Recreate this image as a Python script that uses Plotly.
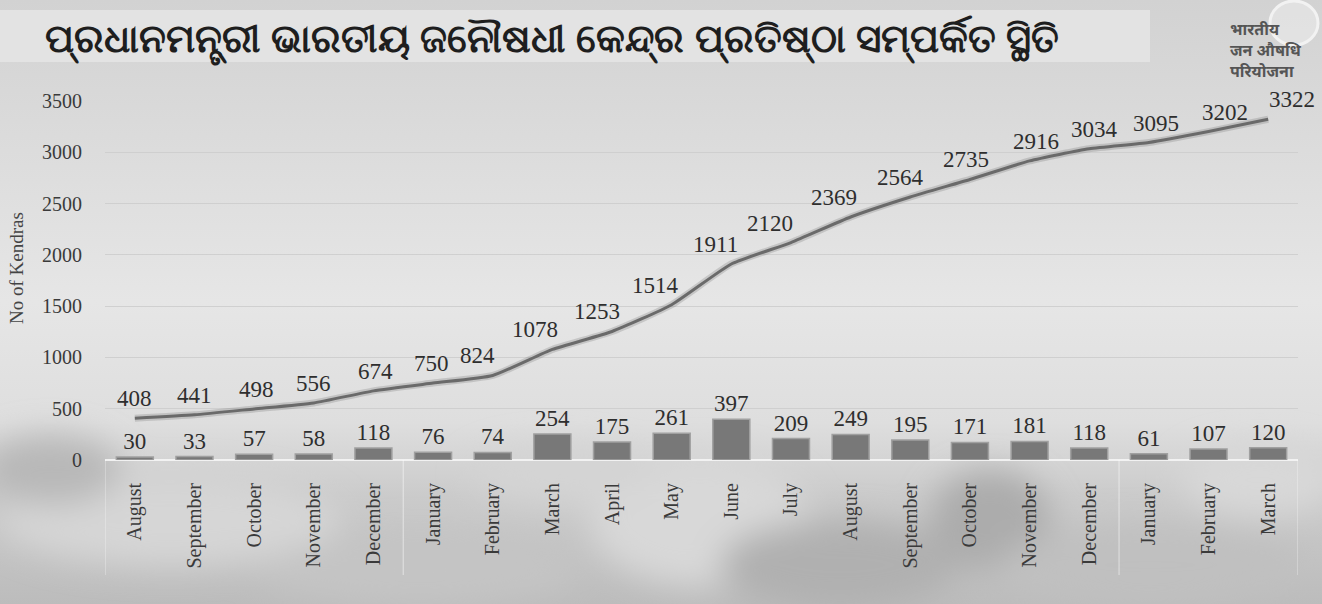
import base64
import plotly.graph_objects as go

# ---------------- data ----------------
months = ["August", "September", "October", "November", "December",
          "January", "February", "March", "April", "May", "June", "July",
          "August", "September", "October", "November", "December",
          "January", "February", "March"]
monthly_opened = [30, 33, 57, 58, 118, 76, 74, 254, 175, 261, 397, 209,
                  249, 195, 171, 181, 118, 61, 107, 120]
cumulative_kendras = [408, 441, 498, 556, 674, 750, 824, 1078, 1253, 1514,
                      1911, 2120, 2369, 2564, 2735, 2916, 3034, 3095, 3202, 3322]
year_breaks = [4.5, 16.5]          # boundaries between year groups (category units)
y_ticks = [0, 500, 1000, 1500, 2000, 2500, 3000, 3500]

title_text = "ପ୍ରଧାନମନ୍ତ୍ରୀ ଭାରତୀୟ ଜନୌଷଧୀ କେନ୍ଦ୍ର ପ୍ରତିଷ୍ଠା ସମ୍ପର୍କିତ ସ୍ଥିତି"
logo_text = "भारतीय<br>जन औषधि<br>परियोजना"

# label nudges for the cumulative line labels (pixels)
line_label_xshift = [0, 0, 2, 0, 2, -2, -15, -17, -15, -16, -16, -21, -17,
                     -10, -4, 6, 5, 7, 16, 24]

# ---------------- layout geometry ----------------
W, H = 1322, 604
ML, MR, MT, MB = 105, 24, 101, 144
PW, PH = W - ML - MR, H - MT - MB

x_idx = list(range(len(months)))
serif = "Liberation Serif, Times New Roman, serif"
txt_col = "#2e2e2e"

# background (soft grey gradient with blurred pill shapes)
svg = f"""<svg xmlns='http://www.w3.org/2000/svg' width='{W}' height='{H}' viewBox='0 0 {W} {H}'>
<defs>
<linearGradient id='g' x1='0' y1='0' x2='0' y2='1'>
<stop offset='0' stop-color='#d2d2d2'/>
<stop offset='0.2' stop-color='#dadada'/>
<stop offset='0.5' stop-color='#e6e6e6'/>
<stop offset='0.7' stop-color='#dedede'/>
<stop offset='0.82' stop-color='#cbcbcb'/>
<stop offset='1' stop-color='#bcbcbc'/>
</linearGradient>
<filter id='b' x='-50%' y='-50%' width='200%' height='200%'><feGaussianBlur stdDeviation='16'/></filter>
</defs>
<rect width='{W}' height='{H}' fill='url(#g)'/>
<rect x='0' y='10' width='1150' height='52' fill='#e3e3e3'/>
<g filter='url(#b)'>
<ellipse cx='170' cy='520' rx='170' ry='45' fill='#d6d6d6'/>
<ellipse cx='50' cy='470' rx='70' ry='35' fill='#b8b8b8'/>
<ellipse cx='420' cy='570' rx='160' ry='35' fill='#c4c4c4'/>
<ellipse cx='700' cy='520' rx='110' ry='65' fill='#d8d8d8'/>
<ellipse cx='840' cy='565' rx='120' ry='45' fill='#b0b0b0'/>
<ellipse cx='990' cy='520' rx='60' ry='50' fill='#acacac'/>
<ellipse cx='1150' cy='565' rx='150' ry='40' fill='#c0c0c0'/>
<ellipse cx='1260' cy='480' rx='80' ry='35' fill='#d8d8d8'/>
<ellipse cx='560' cy='475' rx='90' ry='28' fill='#d4d4d4'/>
</g>
</svg>"""
bg_uri = "data:image/svg+xml;base64," + base64.b64encode(svg.encode()).decode()

fig = go.Figure()

# bars: monthly openings
fig.add_trace(go.Bar(
    x=x_idx, y=monthly_opened, width=0.62,
    marker=dict(color="#787878", line=dict(color="#a0a0a0", width=1.5)),
    text=[str(v) for v in monthly_opened], textposition="outside",
    textfont=dict(family=serif, size=23, color=txt_col),
    cliponaxis=False, hoverinfo="skip", showlegend=False,
))

# soft shadow under the line
fig.add_trace(go.Scatter(
    x=x_idx, y=cumulative_kendras, mode="lines",
    line=dict(color="rgba(90,90,90,0.22)", width=7, shape="spline", smoothing=0.5),
    hoverinfo="skip", showlegend=False,
))
# cumulative line
fig.add_trace(go.Scatter(
    x=x_idx, y=cumulative_kendras, mode="lines",
    line=dict(color="#6a6a6a", width=3, shape="spline", smoothing=0.5),
    hoverinfo="skip", showlegend=False,
))

annotations = []
for i, v in enumerate(cumulative_kendras):
    annotations.append(dict(
        x=i, y=v, xref="x", yref="y", text=str(v), showarrow=False,
        yanchor="bottom", xanchor="center", yshift=5, xshift=line_label_xshift[i],
        font=dict(family=serif, size=23, color=txt_col),
    ))

# axis title
annotations.append(dict(
    x=-88 / PW, y=0.535, xref="paper", yref="paper", text="No of Kendras",
    textangle=-90, showarrow=False, xanchor="center", yanchor="middle",
    font=dict(family=serif, size=19, color="#444444"),
))
# logo text
annotations.append(dict(
    x=(1266 - ML) / PW, y=1 + (MT - 50) / PH, xref="paper", yref="paper",
    text=logo_text, showarrow=False, xanchor="center", yanchor="middle",
    align="left", font=dict(family="Noto Sans", size=16, color="#555555", weight="bold"),
))

shapes = []
# year-group separators in the category band
for xb in [-0.5] + year_breaks + [len(months) - 0.5]:
    shapes.append(dict(
        type="line", xref="x", yref="paper", x0=xb, x1=xb,
        y0=0, y1=-(575 - (H - MB)) / PH,
        line=dict(color="rgba(255,255,255,0.45)", width=1.2), layer="above",
    ))
# logo circle
shapes.append(dict(
    type="circle", xref="paper", yref="paper",
    x0=(1270 - ML) / PW, x1=(1318 - ML) / PW,
    y0=1 + (MT - 45) / PH, y1=1 + (MT - 1) / PH,
    line=dict(color="#f2f2f2", width=3), fillcolor="rgba(235,235,235,0.6)",
))

fig.update_layout(
    width=W, height=H,
    margin=dict(l=ML, r=MR, t=MT, b=MB, autoexpand=False),
    paper_bgcolor="#d8d8d8", plot_bgcolor="rgba(0,0,0,0)",
    title=dict(text=title_text, x=45 / W, xanchor="left", y=1 - 38 / H, yanchor="middle",
               font=dict(family="Noto Sans", size=39, color="#1e1e1e", weight="bold")),
    images=[dict(source=bg_uri, xref="paper", yref="paper",
                 x=-ML / PW, y=1 + MT / PH, sizex=W / PW, sizey=H / PH,
                 xanchor="left", yanchor="top", sizing="stretch", layer="below")],
    annotations=annotations, shapes=shapes,
    xaxis=dict(
        range=[-0.5, len(months) - 0.5], tickmode="array", tickvals=x_idx, ticktext=months,
        tickangle=-90, ticks="outside", ticklen=14, tickcolor="rgba(0,0,0,0)",
        tickfont=dict(family=serif, size=20, color="#3a3a3a"),
        showgrid=False, showline=False, zeroline=False, fixedrange=True,
    ),
    yaxis=dict(
        range=[0, 3500], tickmode="array", tickvals=y_ticks,
        ticks="outside", ticklen=18, tickcolor="rgba(0,0,0,0)",
        tickfont=dict(family=serif, size=20, color="#3a3a3a"),
        showgrid=True, gridcolor="rgba(205,205,205,0.9)", gridwidth=1,
        zeroline=True, zerolinecolor="rgba(245,245,245,0.9)", zerolinewidth=1.5,
        showline=False, fixedrange=True,
    ),
)

fig.write_html("out.html", config={"displayModeBar": False},
               post_script="document.body.style.margin='0';")
